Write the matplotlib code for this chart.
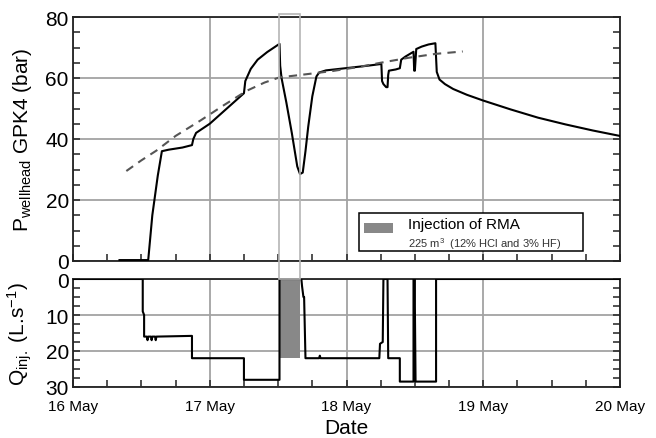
import matplotlib
matplotlib.use("Agg")
import matplotlib.pyplot as plt
import matplotlib.patches as mpatches
from matplotlib.ticker import MultipleLocator, FixedLocator
from matplotlib.transforms import blended_transform_factory

plt.rcParams["font.family"] = ["Liberation Sans", "DejaVu Sans"]
plt.rcParams["mathtext.fontset"] = "custom"
plt.rcParams["mathtext.rm"] = "Liberation Sans"
plt.rcParams["mathtext.it"] = "Liberation Sans:italic"

# time in days of May (16.0 = 16 May 00:00)
p_time = [16.34, 16.55, 16.58, 16.62, 16.65, 16.70, 16.80, 16.87, 16.88, 16.90,
          17.00, 17.10, 17.20, 17.25, 17.255, 17.26, 17.30, 17.35, 17.42, 17.51,
          17.515, 17.525, 17.56, 17.60, 17.64, 17.66, 17.68, 17.70, 17.72, 17.75,
          17.78, 17.80, 17.85, 17.95, 18.05, 18.15, 18.255, 18.26, 18.27, 18.29,
          18.30, 18.305, 18.31, 18.36, 18.39, 18.40, 18.43, 18.46, 18.49, 18.495,
          18.50, 18.51, 18.55, 18.60, 18.65, 18.66, 18.68, 18.72, 18.78, 18.88,
          19.00, 19.20, 19.40, 19.60, 19.80, 20.00]
p_well = [0.3, 0.3, 15, 28, 36, 36.5, 37.2, 38, 40, 42,
          45, 49, 53, 55, 57, 59, 63, 66, 68.5, 71.2,
          64, 60, 52, 42, 31, 28.5, 29, 36, 44, 54,
          60.5, 61.8, 62.5, 63, 63.5, 64, 64.6, 59, 58, 57,
          57, 61, 62.4, 62.8, 63.2, 66, 67, 67.8, 68.6, 62.4,
          62.4, 69.5, 70.3, 71, 71.4, 62, 59.5, 58, 56.4, 54.5,
          52.6, 49.7, 47, 44.8, 42.8, 41]

trend_time = [16.39, 16.50, 16.61, 16.75, 16.93, 17.10, 17.27, 17.40, 17.51,
              17.70, 17.90, 18.10, 18.25, 18.45, 18.65, 18.85]
trend_p = [29.5, 33, 36.2, 41, 46, 51, 55.8, 58.5, 60.2,
           61.2, 62.3, 63.7, 65, 66.6, 67.9, 68.7]

q_time = [16.0, 16.51, 16.51, 16.52, 16.52, 16.54, 16.545, 16.55, 16.57, 16.575,
          16.58, 16.60, 16.605, 16.61, 16.87, 16.87, 17.25, 17.25, 17.51, 17.51,
          17.67, 17.675, 17.685, 17.69, 17.70, 17.80, 17.805, 17.81, 18.24, 18.245,
          18.265, 18.27, 18.30, 18.305, 18.39, 18.39, 18.49, 18.49, 18.50, 18.50,
          18.505, 18.655, 18.655, 20.0]
q_inj = [0, 0, 9, 10, 16, 16, 17, 16, 16, 17,
         16, 16, 17, 16, 15.8, 22, 22, 28, 28, 0,
         0, 2, 5, 5, 22, 22, 21.3, 22, 22, 18,
         17.5, 0, 0, 22, 22, 28.5, 28.5, 0, 0, 7.5,
         28.5, 28.5, 0, 0]

inj_start, inj_end, inj_rate = 17.51, 17.66, 22

day_ticks = [16, 17, 18, 19, 20]
day_labels = ["16 May", "17 May", "18 May", "19 May", "20 May"]

W, H = 656, 439
fig = plt.figure(figsize=(W / 100, H / 100), dpi=100)
ax1 = fig.add_axes([73 / W, 1 - 262 / H, 547 / W, 244 / H])
ax2 = fig.add_axes([73 / W, 1 - 388 / H, 547 / W, 108 / H])

grid_kw = dict(color="#a3a3a3", linewidth=1.3)
for ax in (ax1, ax2):
    ax.set_xlim(16, 20)
    ax.xaxis.set_major_locator(FixedLocator(day_ticks))
    ax.xaxis.set_minor_locator(MultipleLocator(0.25))
    ax.grid(True, which="major", **grid_kw)
    ax.set_axisbelow(True)
    for s in ax.spines.values():
        s.set_linewidth(1.3)
        s.set_color("#222222")
    ax.tick_params(which="both", direction="in", length=5, width=1.1,
                   top=False, right=True, left=True, bottom=True,
                   labelsize=15, pad=3, colors="#222222", labelcolor="black")

# top panel: wellhead pressure
ax1.plot(p_time, p_well, color="black", linewidth=1.5, zorder=3)
ax1.plot(trend_time, trend_p, color="#555555", linewidth=1.5,
         dashes=(4, 3), zorder=3)
ax1.set_ylim(0, 80)
ax1.yaxis.set_major_locator(MultipleLocator(20))
ax1.yaxis.set_minor_locator(MultipleLocator(5))
ax1.tick_params(axis="x", labelbottom=False)
ax1.set_ylabel(r"P$_{\mathrm{wellhead}}$ GPK4 (bar)", fontsize=15)
ax1.yaxis.set_label_coords(-0.071, 0.5)

# legend box
ax1.add_patch(mpatches.Rectangle((0.523, 0.040), 0.409, 0.157,
                                 transform=ax1.transAxes, facecolor="white",
                                 edgecolor="black", linewidth=1.1, zorder=5))
ax1.add_patch(mpatches.Rectangle((0.532, 0.115), 0.053, 0.041,
                                 transform=ax1.transAxes, facecolor="#888888",
                                 edgecolor="none", zorder=6))
ax1.text(0.613, 0.150, "Injection of RMA", transform=ax1.transAxes,
         fontsize=11, va="center", ha="left", zorder=6)
ax1.text(0.613, 0.075, "225 m$^3$  (12% HCl and 3% HF)", transform=ax1.transAxes,
         fontsize=8, va="center", ha="left", color="#333333", zorder=6)

# bottom panel: injection rate
ax2.bar(inj_start, inj_rate, width=inj_end - inj_start, align="edge",
        color="#888888", zorder=2)
ax2.plot(q_time, q_inj, color="black", linewidth=1.5, zorder=3)
ax2.set_ylim(30, 0)
ax2.yaxis.set_major_locator(MultipleLocator(10))
ax2.yaxis.set_minor_locator(MultipleLocator(2.5))
ax2.set_xticklabels(day_labels)
ax2.tick_params(axis="x", labelsize=11, pad=9)
ax2.set_ylabel(r"Q$_{\mathrm{inj.}}$ (L.s$^{-1}$)", fontsize=15)
ax2.yaxis.set_label_coords(-0.071, 0.5)
ax2.set_xlabel("Date", fontsize=15, labelpad=3)

# outline marking the injection window across both panels
tr = blended_transform_factory(ax1.transData, fig.transFigure)
fig.add_artist(mpatches.Rectangle((inj_start, 1 - 280 / H), inj_end - inj_start,
                                  265 / H, transform=tr, fill=False,
                                  edgecolor="#b5b5b5", linewidth=1.2, zorder=1))

fig.savefig("out.png", dpi=100)
